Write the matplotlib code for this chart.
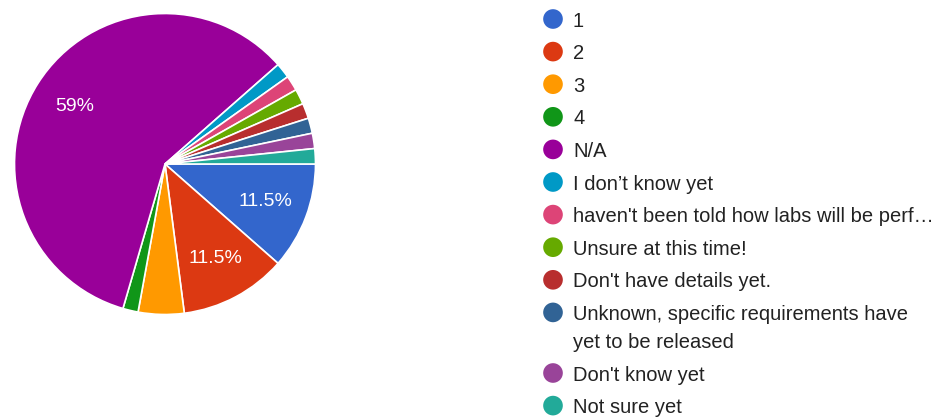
import matplotlib.pyplot as plt

# responses (61 total)
labels = ['1', '2', '3', '4', 'N/A', 'I don\u2019t know yet',
          "haven't been told how labs will be perf\u2026",
          'Unsure at this time!', "Don't have details yet.",
          'Unknown, specific requirements have\nyet to be released',
          "Don't know yet", 'Not sure yet']
counts = [7, 7, 3, 1, 36, 1, 1, 1, 1, 1, 1, 1]
colors = ['#3366cc', '#dc3912', '#ff9900', '#109618', '#990099', '#0099c6',
          '#dd4477', '#66aa00', '#b82e2e', '#316395', '#994499', '#22aa99']

plt.rcParams['font.family'] = ['Liberation Sans', 'DejaVu Sans']

W, H = 940, 417
fig = plt.figure(figsize=(W / 100, H / 100), dpi=100)

# pie: center (165, 164) px, radius 152 px
cx, cy, r = 165, 164, 152
ax = fig.add_axes([(cx - r) / W, (H - cy - r) / H, 2 * r / W, 2 * r / H])


def pct_label(p):
    return f'{p:.3g}%' if p > 8 else ''


wedges, texts, autotexts = ax.pie(
    counts, colors=colors, startangle=0, counterclock=False,
    autopct=pct_label, pctdistance=0.71,
    wedgeprops=dict(edgecolor='white', linewidth=1.2),
    textprops=dict(color='white', fontsize=14))
ax.set_xlim(-1.01, 1.01)
ax.set_ylim(-1.01, 1.01)
ax.set_aspect('equal')
ax.axis('off')

# legend drawn in pixel coordinates
lg = fig.add_axes([0, 0, 1, 1])
lg.set_xlim(0, W)
lg.set_ylim(H, 0)
lg.axis('off')

y = 19
for lab, col in zip(labels, colors):
    lg.scatter([553], [y], s=200, color=col, edgecolors='none')
    lines = lab.split('\n')
    for i, line in enumerate(lines):
        lg.text(573, y + 7.5 + 28 * i, line, fontsize=14.5, color='#222222',
                va='baseline', ha='left')
    y += 32.6 + 28 * (len(lines) - 1)

fig.savefig('out.png', dpi=100)
